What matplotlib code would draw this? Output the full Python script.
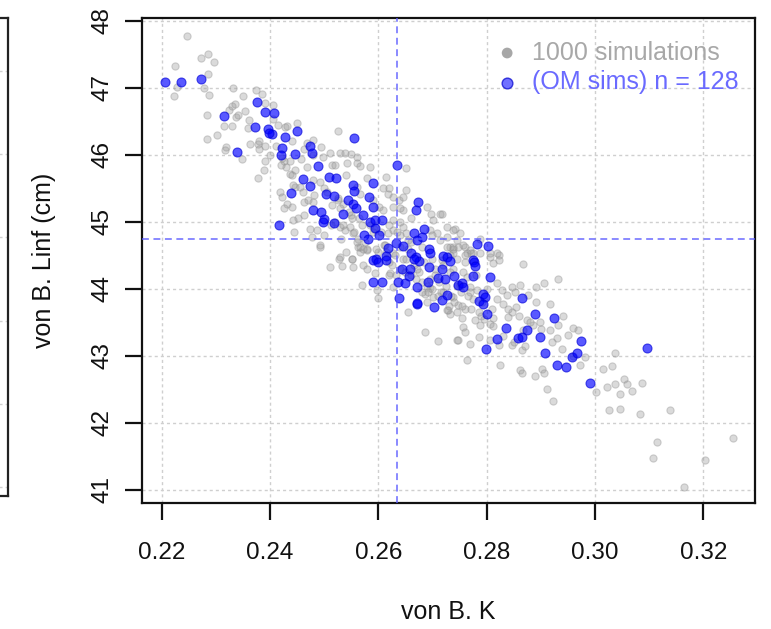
import matplotlib
matplotlib.use("Agg")
import matplotlib.pyplot as plt

# ---------------- data ----------------
# OM sims (blue), von B. K and von B. Linf
om_k = [0.2206, 0.2235, 0.2273, 0.2315, 0.2376, 0.2391, 0.2407, 0.2372, 0.2396, 0.2403,
        0.2399, 0.2428, 0.2450, 0.2339, 0.2422, 0.2421, 0.2446, 0.2473, 0.2478, 0.2556,
        0.2489, 0.2460, 0.2509, 0.2521, 0.2473, 0.2554, 0.2556, 0.2590, 0.2635, 0.2438,
        0.2503, 0.2519, 0.2544, 0.2582, 0.2480, 0.2495, 0.2500, 0.2498, 0.2519, 0.2535,
        0.2553, 0.2558, 0.2572, 0.2590, 0.2585, 0.2593, 0.2607, 0.2594, 0.2601, 0.2574,
        0.2581, 0.2417, 0.2674, 0.2670, 0.2684, 0.2665, 0.2671, 0.2681, 0.2617, 0.2633,
        0.2646, 0.2660, 0.2693, 0.2695, 0.2720, 0.2596, 0.2614, 0.2670, 0.2783, 0.2803,
        0.2726, 0.2775, 0.2732, 0.2591, 0.2615, 0.2590, 0.2607, 0.2637, 0.2650, 0.2643,
        0.2658, 0.2657, 0.2675, 0.2666, 0.2693, 0.2718, 0.2711, 0.2724, 0.2740, 0.2692,
        0.2671, 0.2639, 0.2672, 0.2702, 0.2717, 0.2726, 0.2748, 0.2754, 0.2756, 0.2775,
        0.2777, 0.2778, 0.2806, 0.2793, 0.2797, 0.2786, 0.2793, 0.2800, 0.2798, 0.2819,
        0.2836, 0.2858, 0.2865, 0.2875, 0.2865, 0.2889, 0.2924, 0.2898, 0.2908, 0.2930,
        0.2946, 0.2957, 0.2966, 0.2974, 0.2991, 0.3096, 0.2672, 0.2600]
om_linf = [47.08, 47.09, 47.13, 46.58, 46.79, 46.64, 46.62, 46.42, 46.39, 46.31,
           46.33, 46.26, 46.35, 46.04, 46.10, 46.00, 46.01, 46.13, 46.03, 46.25,
           45.84, 45.64, 45.67, 45.65, 45.54, 45.55, 45.46, 45.58, 45.85, 45.43,
           45.41, 45.38, 45.33, 45.37, 45.18, 45.15, 45.04, 44.99, 44.98, 45.12,
           45.26, 45.20, 45.10, 45.22, 45.00, 45.02, 45.03, 44.91, 44.81, 44.80,
           44.74, 44.96, 45.30, 45.17, 44.89, 44.84, 44.73, 44.77, 44.61, 44.68,
           44.64, 44.54, 44.60, 44.53, 44.49, 44.45, 44.49, 44.48, 44.67, 44.64,
           44.48, 44.43, 44.42, 44.43, 44.43, 44.10, 44.10, 44.10, 44.08, 44.29,
           44.29, 44.19, 44.42, 44.44, 44.33, 44.29, 44.16, 44.14, 44.19, 44.10,
           44.03, 43.86, 43.78, 43.73, 43.84, 43.91, 44.06, 44.09, 44.03, 44.19,
           44.40, 44.34, 44.17, 43.92, 43.88, 43.82, 43.77, 43.63, 43.11, 43.25,
           43.42, 43.27, 43.28, 43.39, 43.87, 43.62, 43.57, 43.28, 43.05, 42.87,
           42.84, 42.98, 43.05, 43.22, 42.60, 43.12, 43.79, 44.40]

# 1000 simulations (grey)
sim_k = [0.2246, 0.2225, 0.2272, 0.2285, 0.2297, 0.2286, 0.2278, 0.2287, 0.2223, 0.2228,
         0.2284, 0.2283, 0.2302, 0.2315, 0.2319, 0.2316, 0.2329, 0.2325, 0.2329, 0.2335,
         0.2332, 0.2351, 0.2353, 0.2338, 0.2362, 0.2363, 0.2378, 0.2380, 0.2348, 0.2374,
         0.2385, 0.2391, 0.2405, 0.2391, 0.2391, 0.2389, 0.2377, 0.2406, 0.2415, 0.2428,
         0.2432, 0.2449, 0.2411, 0.2426, 0.2436, 0.2430, 0.2436, 0.2446, 0.2463, 0.2458,
         0.2468, 0.2468, 0.2480, 0.2495, 0.2497, 0.2511, 0.2526, 0.2529, 0.2538, 0.2549,
         0.2560, 0.2514, 0.2542, 0.2560, 0.2567, 0.2585, 0.2418, 0.2423, 0.2431, 0.2425,
         0.2440, 0.2446, 0.2455, 0.2463, 0.2471, 0.2480, 0.2492, 0.2443, 0.2452, 0.2444,
         0.2474, 0.2486, 0.2477, 0.2492, 0.2526, 0.2535, 0.2529, 0.2538, 0.2548, 0.2554,
         0.2563, 0.2529, 0.2551, 0.2563, 0.2566, 0.2560, 0.2566, 0.2591, 0.2602, 0.2609,
         0.2609, 0.2618, 0.2628, 0.2639, 0.2652, 0.2646, 0.2652, 0.2615, 0.2628, 0.2646,
         0.2628, 0.2640, 0.2646, 0.2618, 0.2628, 0.2652, 0.2655, 0.2689, 0.2698, 0.2701,
         0.2714, 0.2695, 0.2708, 0.2714, 0.2726, 0.2742, 0.2745, 0.2732, 0.2738, 0.2717,
         0.2726, 0.2738, 0.2751, 0.2760, 0.2763, 0.2775, 0.2788, 0.2806, 0.2819, 0.2492,
         0.2511, 0.2528, 0.2533, 0.2551, 0.2554, 0.2571, 0.2566, 0.2579, 0.2569, 0.2594,
         0.2598, 0.2600, 0.2622, 0.2628, 0.2655, 0.2686, 0.2711, 0.2686, 0.2695, 0.2701,
         0.2726, 0.2732, 0.2745, 0.2745, 0.2705, 0.2717, 0.2738, 0.2628, 0.2640, 0.2726,
         0.2738, 0.2748, 0.2757, 0.2769, 0.2732, 0.2745, 0.2760, 0.2772, 0.2788, 0.2806,
         0.2822, 0.2868, 0.2932, 0.2812, 0.2823, 0.2738, 0.2757, 0.2763, 0.2751, 0.2769,
         0.2782, 0.2738, 0.2748, 0.2729, 0.2754, 0.2757, 0.2760, 0.2748, 0.2763, 0.2769,
         0.2785, 0.2806, 0.2822, 0.2825, 0.2778, 0.2788, 0.2806, 0.2812, 0.2819, 0.2828,
         0.2837, 0.2846, 0.2852, 0.2831, 0.2846, 0.2840, 0.2855, 0.2862, 0.2877, 0.2892,
         0.2905, 0.2892, 0.2874, 0.2886, 0.2868, 0.2898, 0.2917, 0.2917, 0.2932, 0.2941,
         0.2846, 0.2865, 0.2862, 0.2865, 0.2889, 0.2902, 0.2905, 0.2911, 0.2923, 0.2929,
         0.2951, 0.2960, 0.2969, 0.2982, 0.2972, 0.3037, 0.3015, 0.3031, 0.3002, 0.3022,
         0.3037, 0.3053, 0.3059, 0.3068, 0.3046, 0.3086, 0.3026, 0.3046, 0.3084, 0.3139,
         0.3115, 0.3107, 0.3204, 0.3255, 0.3165,
         0.2620, 0.2640, 0.2660, 0.2680, 0.2700, 0.2720, 0.2580, 0.2560, 0.2600, 0.2620,
         0.2640, 0.2660, 0.2680, 0.2700, 0.2720, 0.2740, 0.2760, 0.2680, 0.2620, 0.2580,
         0.2540, 0.2500, 0.2520, 0.2480, 0.2460, 0.2500, 0.2540, 0.2580, 0.2620, 0.2640,
         0.2660, 0.2700, 0.2760, 0.2780, 0.2800, 0.2820, 0.2840, 0.2860, 0.2880, 0.2900,
         0.2920, 0.2940, 0.2960, 0.2440, 0.2420, 0.2400, 0.2380, 0.2360, 0.2340, 0.2440,
         0.2480, 0.2520, 0.2650, 0.2670, 0.2690, 0.2710, 0.2630, 0.2610, 0.2590, 0.2570,
         0.2550, 0.2530, 0.2690, 0.2730, 0.2770, 0.2790, 0.2810, 0.2830, 0.2850, 0.2870,
         0.2505, 0.2515, 0.2525, 0.2535, 0.2545, 0.2555, 0.2565, 0.2575, 0.2585, 0.2595,
         0.2605, 0.2615, 0.2625, 0.2635, 0.2645, 0.2655, 0.2665, 0.2675, 0.2685, 0.2695,
         0.2705, 0.2715, 0.2725, 0.2735, 0.2745, 0.2755, 0.2765, 0.2775, 0.2785, 0.2795,
         0.2512, 0.2532, 0.2552, 0.2572, 0.2592, 0.2612, 0.2632, 0.2652, 0.2672, 0.2692,
         0.2712, 0.2732, 0.2752, 0.2772, 0.2792, 0.2812, 0.2462, 0.2482, 0.2442, 0.2422]
sim_linf = [47.77, 47.33, 47.44, 47.50, 47.38, 47.21, 47.00, 46.89, 46.87, 47.01,
            46.59, 46.23, 46.29, 46.43, 46.12, 46.07, 46.43, 46.67, 46.73, 46.76,
            46.99, 46.87, 46.66, 46.57, 46.52, 46.16, 46.16, 46.08, 45.94, 46.96,
            46.91, 46.77, 46.74, 46.13, 45.90, 45.77, 45.66, 46.53, 46.44, 46.41,
            46.43, 46.48, 46.13, 45.91, 45.90, 45.82, 45.72, 45.77, 46.08, 45.93,
            45.82, 46.17, 46.22, 46.12, 45.97, 46.02, 46.35, 46.02, 46.03, 46.01,
            45.97, 45.85, 45.87, 45.87, 45.83, 45.82, 45.45, 45.37, 45.26, 45.20,
            45.22, 45.52, 45.52, 45.30, 45.33, 45.62, 45.60, 45.03, 45.05, 44.85,
            44.90, 44.88, 44.77, 44.63, 45.32, 45.27, 44.93, 44.88, 44.93, 44.83,
            44.75, 44.48, 44.45, 44.63, 44.55, 45.52, 45.42, 45.32, 45.22, 45.18,
            45.50, 45.42, 45.37, 45.32, 45.48, 45.37, 45.80, 45.67, 45.22, 45.17,
            45.03, 45.00, 44.93, 44.83, 44.88, 44.83, 44.73, 45.22, 45.12, 45.03,
            45.12, 44.88, 44.83, 44.73, 44.78, 44.89, 44.73, 44.63, 44.53, 45.12,
            44.93, 44.88, 44.83, 44.63, 44.53, 44.53, 44.75, 44.48, 44.53, 44.65,
            44.33, 44.45, 44.34, 44.45, 44.33, 44.35, 44.63, 44.58, 44.06, 44.23,
            43.98, 43.86, 44.23, 44.03, 43.66, 43.36, 43.22, 43.93, 44.01, 43.88,
            43.68, 43.63, 43.66, 43.24, 44.30, 44.43, 44.63, 44.53, 44.63, 44.63,
            44.60, 44.63, 44.65, 44.58, 44.50, 44.45, 44.50, 44.53, 44.53, 44.53,
            44.50, 44.37, 44.14, 44.38, 44.43, 44.30, 44.25, 44.18, 44.06, 44.03,
            43.98, 43.88, 43.76, 43.68, 43.56, 43.43, 43.36, 43.24, 42.94, 43.18,
            43.28, 43.23, 43.16, 42.87, 43.53, 43.46, 43.48, 43.56, 44.08, 43.98,
            43.91, 44.03, 43.96, 43.78, 43.66, 43.58, 43.73, 44.06, 43.91, 43.81,
            44.08, 44.03, 43.53, 43.46, 43.38, 43.51, 43.78, 43.38, 43.46, 43.59,
            43.16, 43.09, 42.79, 42.74, 42.70, 42.81, 42.74, 42.51, 42.33, 43.26,
            43.31, 43.41, 43.38, 42.98, 42.86, 43.04, 42.81, 42.85, 42.46, 42.54,
            42.58, 42.65, 42.58, 42.48, 42.43, 42.60, 42.20, 42.21, 42.13, 42.19,
            41.72, 41.48, 41.44, 41.78, 41.05,
            44.95, 44.80, 44.70, 44.62, 44.45, 44.35, 44.60, 44.70, 44.55, 44.40,
            44.30, 44.20, 44.10, 44.00, 43.95, 43.80, 43.70, 43.95, 44.20, 44.30,
            44.55, 44.80, 45.00, 45.30, 45.45, 45.50, 45.70, 45.65, 45.50, 45.20,
            45.05, 44.80, 44.40, 44.20, 44.00, 43.85, 43.70, 43.60, 43.50, 43.40,
            43.20, 43.10, 43.00, 45.70, 45.85, 46.00, 46.20, 46.40, 46.60, 46.20,
            46.00, 45.85, 44.25, 44.15, 44.05, 43.90, 44.50, 44.65, 44.85, 44.95,
            45.10, 45.20, 43.80, 43.75, 43.95, 43.60, 43.70, 43.30, 43.20, 43.15,
            45.45, 45.25, 45.35, 44.95, 45.15, 44.85, 45.05, 44.70, 44.95, 44.60,
            44.85, 44.55, 44.35, 44.85, 44.45, 44.60, 44.35, 44.25, 44.40, 44.15,
            44.20, 43.95, 44.05, 43.90, 44.05, 43.75, 43.90, 43.85, 43.65, 43.55,
            44.95, 44.75, 45.05, 44.60, 44.90, 44.65, 44.20, 44.45, 44.30, 43.95,
            44.10, 44.25, 43.95, 43.70, 43.80, 43.45, 45.10, 45.40, 45.55, 45.95]

ref_k = 0.2634       # vertical dashed reference line
ref_linf = 44.74     # horizontal dashed reference line

x_ticks = [0.22, 0.24, 0.26, 0.28, 0.30, 0.32]
x_ticklabels = ["0.22", "0.24", "0.26", "0.28", "0.30", "0.32"]
y_ticks = [41, 42, 43, 44, 45, 46, 47, 48]
left_panel_ticks = [0, 1, 2, 3, 4, 5]

legend_labels = ["1000 simulations", "(OM sims) n = 128"]

# ---------------- figure ----------------
plt.rcParams['font.family'] = ['Liberation Sans', 'DejaVu Sans']
W, H = 771, 629
fig = plt.figure(figsize=(W / 100, H / 100), dpi=100)

def px_axes(x0, y0, x1, y1):
    return fig.add_axes([x0 / W, 1 - y1 / H, (x1 - x0) / W, (y1 - y0) / H])

grid_col = "#cfcfcf"
grid_ls = (0, (2.2, 2.2))

# partial left panel (cut off by figure edge)
axl = px_axes(-300, 18.3, 7.5, 495.7)
axl.set_xlim(0, 1)
axl.set_ylim(-0.105, 5.633)
axl.set_yticks(left_panel_ticks)
axl.set_xticks([])
axl.tick_params(left=False, labelleft=False)
axl.grid(axis='y', color=grid_col, linestyle=grid_ls, linewidth=1)
for s in axl.spines.values():
    s.set_linewidth(1.6)
    s.set_color("#222222")

# main panel
ax = px_axes(142.3, 18.3, 755, 503.3)
ax.set_xlim(0.21642, 0.32955)
ax.set_ylim(40.801, 48.036)

ax.set_xticks(x_ticks)
ax.set_xticklabels(x_ticklabels)
ax.set_yticks(y_ticks)
ax.set_yticklabels([str(v) for v in y_ticks], rotation=90, va='center')
ax.grid(True, color=grid_col, linestyle=grid_ls, linewidth=1)
ax.set_axisbelow(True)

ax.tick_params(axis='both', direction='out', length=12, width=1.6,
               labelsize=17.5, colors='#111111')
ax.tick_params(axis='x', pad=16)
ax.tick_params(axis='y', pad=9)
for s in ax.spines.values():
    s.set_linewidth(1.6)
    s.set_color("#111111")

ax.scatter(sim_k, sim_linf, s=27, color=(0.62, 0.62, 0.62, 0.38),
           edgecolors=(0.55, 0.55, 0.55, 0.38), linewidths=0.8, zorder=2)
ax.scatter(om_k, om_linf, s=42, color=(0.0, 0.0, 1.0, 0.65),
           edgecolors=(0.0, 0.0, 0.85, 0.65), linewidths=0.8, zorder=3)

blue_line = (0.35, 0.35, 1.0, 0.9)
ax.axvline(ref_k, color=blue_line, linestyle=(0, (4.5, 3)), linewidth=1.1, zorder=4)
ax.axhline(ref_linf, color=blue_line, linestyle=(0, (4.5, 3)), linewidth=1.1, zorder=4)

ax.set_xlabel("von B. K", fontsize=18, labelpad=26, color='#111111')
ax.set_ylabel("von B. Linf (cm)", fontsize=18, labelpad=25, color='#111111')

# legend (R-style, no box)
h1 = ax.scatter([], [], s=60, color=(0.62, 0.62, 0.62, 0.9), edgecolors='none')
h2 = ax.scatter([], [], s=60, color=(0.2, 0.2, 1.0, 0.7), edgecolors=(0, 0, 0.8, 0.7))
leg = ax.legend([h1, h2], legend_labels, loc='upper right', frameon=False,
                fontsize=18, handlelength=1.0, handletextpad=0.5, borderaxespad=0.2,
                labelspacing=0.22, bbox_to_anchor=(0.998, 0.985))
leg.get_texts()[0].set_color('#a8a8a8')
leg.get_texts()[1].set_color('#6a6aff')

fig.savefig("out.png", dpi=100)
